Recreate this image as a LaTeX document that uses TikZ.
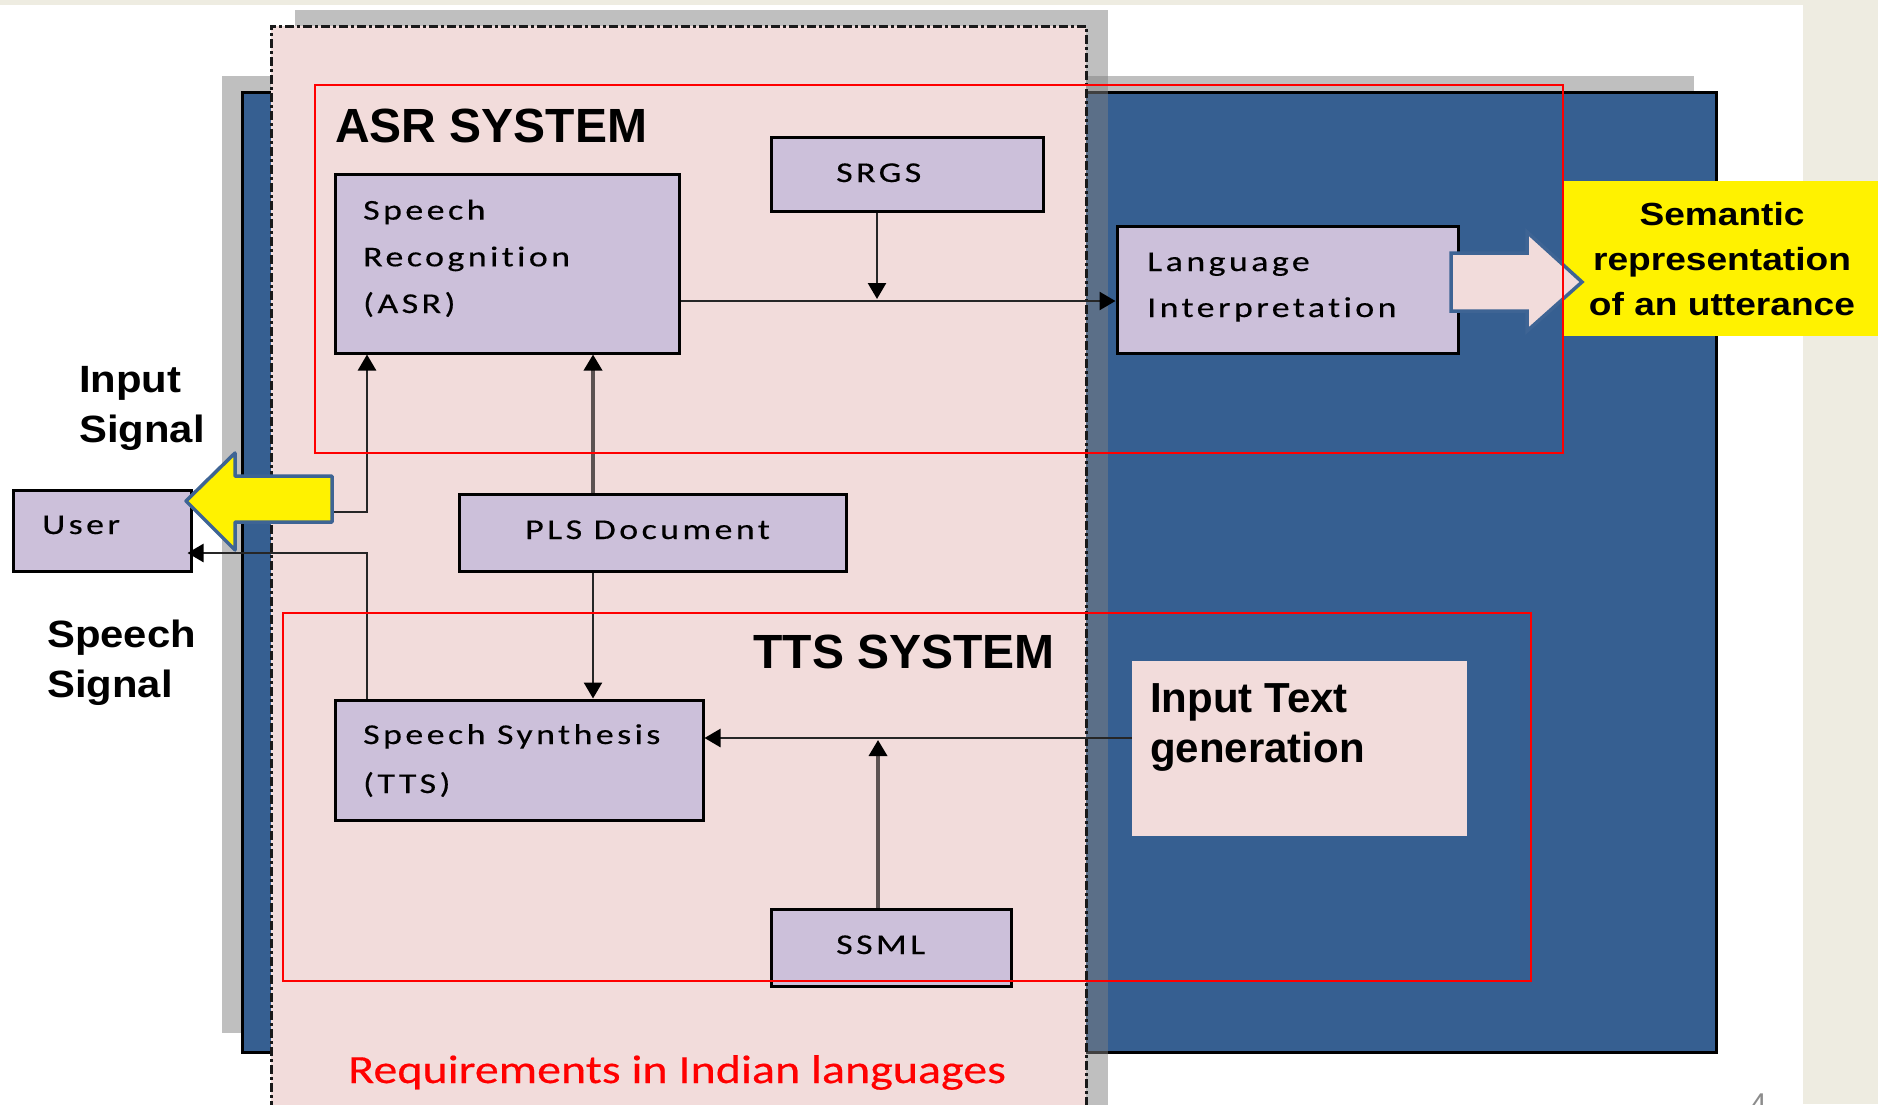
\documentclass[tikz,border=0pt]{standalone}
\usepackage{fontspec}
\usetikzlibrary{arrows.meta,fit}
\newfontfamily\boxf{Carlito}[FakeStretch=1.25,LetterSpace=12,Ligatures=NoCommon,FakeBold=0.4]
\newfontfamily\reqf{Carlito}[FakeStretch=1.2,Ligatures=NoCommon,FakeBold=0.4]
\newfontfamily\hdf{Liberation Sans Bold}
\newfontfamily\lblf{Liberation Sans Bold}[FakeStretch=1.1]
\newfontfamily\semf{Liberation Sans Bold}[FakeStretch=1.16]
\newfontfamily\numf{Liberation Sans}
\definecolor{slateblue}{RGB}{54,95,145}
\definecolor{panelpink}{RGB}{242,220,219}
\definecolor{lav}{RGB}{204,192,218}
\definecolor{beige}{RGB}{238,236,225}
\definecolor{shadowgray}{RGB}{128,128,128}
\definecolor{arrowblue}{RGB}{62,100,148}
\definecolor{lineg}{RGB}{92,82,82}
\begin{document}
\begin{tikzpicture}[x=1pt,y=-1pt,
  shadowfill/.style={fill=shadowgray,fill opacity=0.5},
  boxnode/.style={draw=black,line width=3pt,fill=lav,inner sep=0pt},
  plainfit/.style={inner sep=0pt},
  conn/.style={draw=black!85,line width=2.5pt,-{Triangle[length=16pt,width=18pt,color=black]}},
  gconn/.style={draw=lineg,line width=3.5pt,-{Triangle[length=16pt,width=18pt,color=black]}},
  redframe/.style={draw=red,line width=2pt},
  boxtext/.style={anchor=base west,inner sep=0pt,align=left,font=\boxf\fontsize{28.7}{46.7}\selectfont},
  blockarrow/.style={line width=3.5pt,draw=arrowblue,line join=round}
]
\useasboundingbox (0,0) rectangle (1878,1104);
% page background
\fill[beige] (0,0) rectangle (1878,1104);
\fill[white] (0,5) rectangle (1803,1104);
% blue panel and its shadow
\fill[shadowfill] (222,76) rectangle (1694,1033);
\draw[line width=3pt,fill=slateblue] (242,92) rectangle (1716,1052);
% pink panel and its shadow
\fill[shadowfill] (295,10) rectangle (1108,1110);
\fill[panelpink] (271,26) rectangle (1086,1110);
\draw[line width=3pt,draw=black!90,dash pattern=on 9pt off 3pt on 3pt off 3pt] (271,1110) -- (271,26) -- (1086,26) -- (1086,1110);

% plain boxes
\node[plainfit,fill=yellow,fit={(1563,181)(1880,336)}] (sem) {};
\node[plainfit,fill=panelpink,fit={(1132,661)(1467,836)}] (inp) {};

% lavender boxes
\node[boxnode,fit={(335,174)(679,353)}] (asr) {};
\node[boxnode,fit={(771,137)(1043,211)}] (srgs) {};
\node[boxnode,fit={(1117,226)(1458,353)}] (lang) {};
\node[boxnode,fit={(13,490)(191,571)}] (user) {};
\node[boxnode,fit={(459,494)(846,571)}] (pls) {};
\node[boxnode,fit={(335,700)(703,820)}] (tts) {};
\node[boxnode,fit={(771,909)(1011,986)}] (ssml) {};

% box texts (multi-line nodes: base = last line's baseline)
\node[boxtext] (asrtxt) at (363,313) {Speech\\Recognition\\(ASR)};
\node[boxtext] (srgstxt) at (836,182) {SRGS};
\node[boxtext,font=\boxf\fontsize{28.7}{46}\selectfont] (langtxt) at (1147,317) {Language\\Interpretation};
\node[boxtext] (usertxt) at (42,534) {User};
\node[boxtext] (plstxt) at (525,539) {PLS Document};
\node[boxtext,font=\boxf\fontsize{28.7}{49}\selectfont] (ttstxt) at (363,793) {Speech Synthesis\\(TTS)};
\node[boxtext] (ssmltxt) at (836,954) {SSML};

% helper coordinates
\coordinate (ySR) at (0,301);
\coordinate (xSR) at (877,0);
\coordinate (xPA) at (593,0);
\coordinate (xL) at (367,0);
\coordinate (yU) at (0,553);
\coordinate (yT) at (0,738);
\coordinate (xSS) at (878,0);
\coordinate (ytail) at (332,512);

% connectors
\draw[conn] (asr.east |- ySR) -- (lang.west |- ySR);
\draw[conn,shorten >=2pt] (srgs.south -| xSR) -- (xSR |- ySR);
\draw[gconn] (pls.north -| xPA) -- (asr.south -| xPA);
\draw[conn] (pls.south -| xPA) -- (tts.north -| xPA);
\draw[conn] (ytail) -- (ytail -| xL) -- (asr.south -| xL);
\draw[conn,shorten >=-5pt] (tts.north -| xL) -- (xL |- yU) -- (user.east |- yU);
\draw[gconn,shorten >=2pt] (ssml.north -| xSS) -- (xSS |- yT);
\draw[conn] (inp.west |- yT) -- (tts.east |- yT);

% block arrows
\draw[blockarrow,fill=yellow] (186,501) -- (235,453) -- (235,476) -- (332,476) -- (332,522) -- (235,522) -- (235,550) -- cycle;
\draw[blockarrow,fill=panelpink,line join=miter] (1451,253) -- (1527,253) -- (1527,232) -- (1582,282) -- (1527,331) -- (1527,311) -- (1451,311) -- cycle;

% red frames
\draw[redframe] (315,85) rectangle (1563,453);
\draw[redframe] (283,613) rectangle (1531,981);

% labels
\node[anchor=base west,inner sep=0pt,font=\hdf\fontsize{48}{56}\selectfont] (asrhead) at (335,142) {ASR SYSTEM};
\node[anchor=base east,inner sep=0pt,font=\hdf\fontsize{48}{56}\selectfont] (ttshead) at (1055,668) {TTS SYSTEM};
\node[anchor=base west,inner sep=0pt,align=left,font=\lblf\fontsize{38}{50}\selectfont] (inlbl) at (79,442) {Input\\Signal};
\node[anchor=base west,inner sep=0pt,align=left,font=\lblf\fontsize{38}{50}\selectfont] (splbl) at (47,697) {Speech\\Signal};
\node[anchor=base west,inner sep=0pt,align=left,font=\hdf\fontsize{42}{50}\selectfont] (inptxt) at (1150,762) {Input Text\\generation};
\node[anchor=base,inner sep=0pt,align=center,font=\semf\fontsize{32}{45}\selectfont] (semtxt) at (1722,315) {Semantic\\representation\\of an utterance};
\node[anchor=base west,inner sep=0pt,text=red,font=\reqf\fontsize{40}{48}\selectfont] (req) at (348,1083) {Requirements in Indian languages};
\begin{scope}
\clip (1700,1070) rectangle (1803,1104);
\node[anchor=north west,inner sep=0pt,text=black!45,font=\numf\fontsize{30}{36}\selectfont] (pagenum) at (1750,1094) {4};
\end{scope}
\end{tikzpicture}
\end{document}
